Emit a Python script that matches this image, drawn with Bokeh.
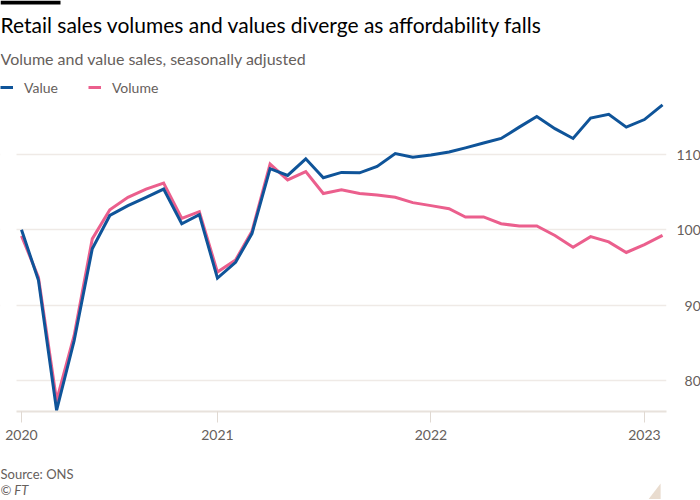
import pandas as pd
from bokeh.plotting import figure
from bokeh.layouts import column
from bokeh.models import (Legend, LegendItem, FixedTicker, DatetimeTickFormatter,
                          BoxAnnotation, PolyAnnotation, Label, Range1d, ColumnDataSource)
from bokeh.embed import file_html
from bokeh.resources import INLINE

# ---- data (monthly index, Feb 2020 = 100) ----
months = pd.date_range("2020-02-01", "2023-02-01", freq="MS")
value = [100.0, 93.3, 76.1, 85.3, 97.5, 101.9, 103.2, 104.3, 105.4, 100.8, 102.0, 93.6,
         95.7, 99.5, 108.1, 107.2, 109.4, 106.9, 107.6, 107.55, 108.4, 110.1, 109.6, 109.9,
         110.3, 110.85, 111.5, 112.1, 113.6, 115.0, 113.4, 112.1, 114.8, 115.3, 113.6, 114.6,
         116.55]
volume = [99.2, 93.7, 77.4, 86.0, 98.8, 102.65, 104.3, 105.4, 106.2, 101.5, 102.4, 94.4,
          96.0, 99.8, 108.7, 106.6, 107.7, 104.8, 105.3, 104.8, 104.6, 104.3, 103.6, 103.2,
          102.8, 101.7, 101.7, 100.8, 100.5, 100.5, 99.25, 97.7, 99.1, 98.4, 97.0, 98.05,
          99.25]
series_names = ["Value", "Volume"]
x_tick_dates = ["2020-02-01", "2021-01-01", "2022-01-01", "2023-01-01"]
y_ticks = [80, 90, 100, 110]

TITLE = "Retail sales volumes and values diverge as affordability falls"
SUBTITLE = "Volume and value sales, seasonally adjusted"
SOURCE = "Source: ONS"
CREDIT = "\u00a9 FT"

FONT = "Lato"
GREY = "#66605c"
BLUE = "#0f5499"
PINK = "#eb5f8d"

# ---- geometry (pixels) ----
W = 699
FW, FH = 666, 411          # plot frame; its top-left is the canvas top-left
MAIN_H = 451               # main figure height (frame + x axis)
FOOT_H = 48                # footer strip height
PXY = 7.55                 # pixels per index point
Y100 = 229.3               # canvas y of the 100 line
PXX = 0.5849               # pixels per day
X0 = 21                    # canvas x of the first month

Y_TOP = 100 + Y100 / PXY
Y_BOT = 100 - (FH - Y100) / PXY
t0 = pd.Timestamp("2020-02-01")
x_start = t0 - pd.Timedelta(days=X0 / PXX)
x_end = x_start + pd.Timedelta(days=FW / PXX)


def ydata(cy):
    return Y_TOP - cy / PXY


def xdata(cx):
    return (x_start + pd.Timedelta(days=cx / PXX)).value / 1e6


src = ColumnDataSource(dict(date=months, value=value, volume=volume))

p = figure(frame_width=FW, frame_height=FH, output_backend="svg", toolbar_location=None,
           x_axis_type="datetime", y_axis_location="right", title=None,
           x_range=Range1d(x_start, x_end), y_range=Range1d(Y_BOT, Y_TOP),
           min_border_left=0, min_border_right=W - FW, min_border_top=0,
           min_border_bottom=MAIN_H - FH,
           background_fill_color="white", border_fill_color="white")
p.outline_line_color = None

# grid
p.xgrid.grid_line_color = None
p.ygrid.ticker = FixedTicker(ticks=y_ticks)
p.ygrid.grid_line_color = "#efeae6"
p.ygrid.grid_line_width = 1.5
# grid starts a little right of the frame edge
p.add_layout(BoxAnnotation(left=None, right=xdata(16), top=ydata(120), bottom=None,
                           fill_color="white", fill_alpha=1, line_color=None,
                           level="underlay"))

r_vol = p.line("date", "volume", source=src, line_color=PINK, line_width=3, line_join="miter")
r_val = p.line("date", "value", source=src, line_color=BLUE, line_width=3, line_join="miter")

# axes
p.xaxis.ticker = FixedTicker(ticks=[pd.Timestamp(d).value / 1e6 for d in x_tick_dates])
p.xaxis.formatter = DatetimeTickFormatter(years="%Y", months="%Y", days="%Y", hours="%Y")
p.xaxis.bounds = (xdata(16), xdata(FW))
p.xaxis.axis_line_color = "#e8e2dc"
p.xaxis.axis_line_width = 2
p.xaxis.major_tick_in = 0
p.xaxis.major_tick_out = 11
p.xaxis.major_tick_line_color = "#e0d9d2"
p.xaxis.minor_tick_line_color = None
p.xaxis.major_label_standoff = 7

p.yaxis.ticker = FixedTicker(ticks=y_ticks)
p.yaxis.axis_line_color = None
p.yaxis.major_tick_line_color = None
p.yaxis.minor_tick_line_color = None
p.yaxis.major_label_standoff = 4
# right-align the two-digit labels with a figure space
p.yaxis.major_label_overrides = {t: ("\u2007" + str(t) if t < 100 else str(t)) for t in y_ticks}

for ax in (p.xaxis[0], p.yaxis[0]):
    ax.major_label_text_font = FONT
    ax.major_label_text_font_size = "14px"
    ax.major_label_text_color = GREY

# legend at the top-left
legend = Legend(items=[LegendItem(label=series_names[0], renderers=[r_val]),
                       LegendItem(label=series_names[1], renderers=[r_vol])],
                orientation="horizontal", location=(0, FH - 95.5),
                glyph_width=13, glyph_height=14, label_standoff=11, spacing=30,
                padding=0, margin=0, border_line_color=None, background_fill_alpha=0,
                label_text_font=FONT, label_text_font_size="14px", label_text_color=GREY)
p.add_layout(legend, "center")

# header: black bar, title, subtitle
p.add_layout(BoxAnnotation(left=None, right=xdata(60), top=None, bottom=ydata(4),
                           fill_color="black", fill_alpha=1, line_color=None))
p.add_layout(Label(x=xdata(0), y=ydata(24), text=TITLE, text_font=FONT,
                   text_font_size="21px", text_color="#000000",
                   text_baseline="middle", text_align="left"))
p.add_layout(Label(x=xdata(0), y=ydata(57.5), text=SUBTITLE, text_font=FONT,
                   text_font_size="16px", text_color=GREY,
                   text_baseline="middle", text_align="left"))

# footer strip (pixel coordinates, y pointing down)
foot = figure(width=W, height=FOOT_H, output_backend="svg", toolbar_location=None,
              x_range=Range1d(0, W), y_range=Range1d(FOOT_H, 0),
              x_axis_location=None, y_axis_location=None, title=None,
              min_border_left=0, min_border_right=0, min_border_top=0, min_border_bottom=0,
              background_fill_color="white", border_fill_color="white")
foot.outline_line_color = None
foot.xgrid.grid_line_color = None
foot.ygrid.grid_line_color = None
foot.add_layout(Label(x=0, y=22, text=SOURCE, text_font=FONT, text_font_size="13px",
                      text_color=GREY, text_baseline="middle", text_align="left"))
foot.add_layout(Label(x=0, y=38.5, text=CREDIT, text_font=FONT, text_font_size="13px",
                      text_font_style="italic", text_color=GREY,
                      text_baseline="middle", text_align="left"))
foot.add_layout(PolyAnnotation(xs=[W - 2, W - 2, W - 15], ys=[FOOT_H - 16, FOOT_H, FOOT_H],
                               fill_color="#e9dccf", fill_alpha=1, line_color=None))

layout = column(p, foot, spacing=0)
open("out.html", "w").write(file_html(layout, INLINE))
